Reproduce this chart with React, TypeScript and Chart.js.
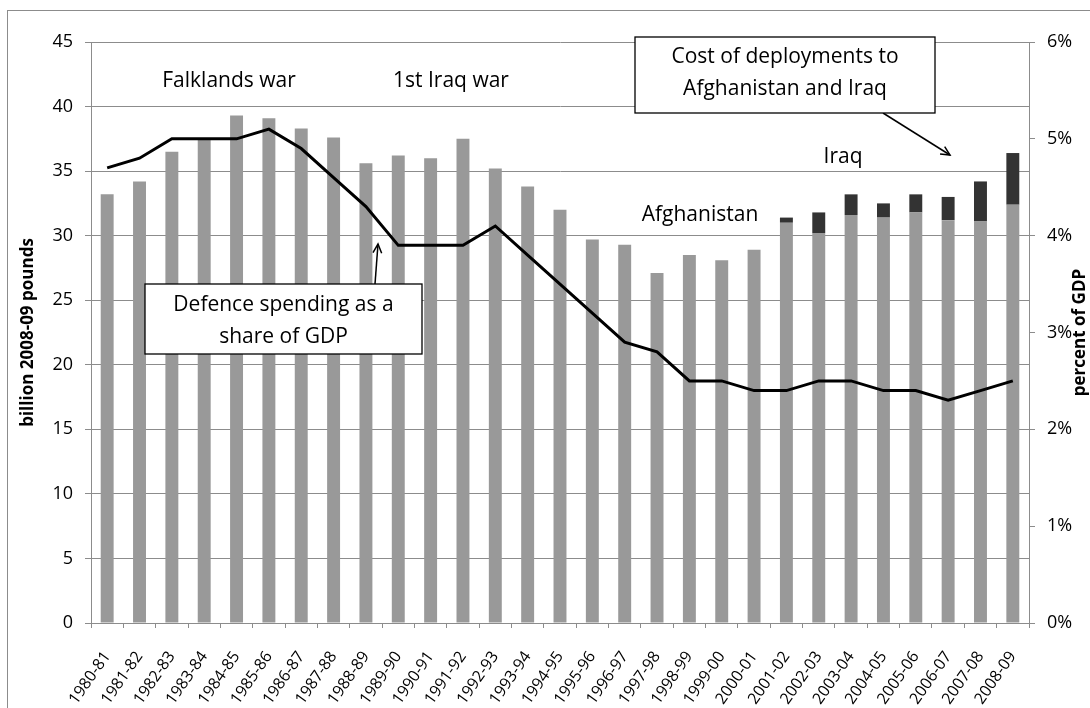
import React, { useEffect, useRef } from "react";
import { Chart, registerables } from "chart.js";

Chart.register(...registerables);

const categories = [
  "1980-81", "1981-82", "1982-83", "1983-84", "1984-85", "1985-86", "1986-87", "1987-88",
  "1988-89", "1989-90", "1990-91", "1991-92", "1992-93", "1993-94", "1994-95", "1995-96",
  "1996-97", "1997-98", "1998-99", "1999-00", "2000-01", "2001-02", "2002-03", "2003-04",
  "2004-05", "2005-06", "2006-07", "2007-08", "2008-09",
];

// billion 2008-09 pounds, core defence spending
const coreSpending = [
  33.2, 34.2, 36.5, 37.4, 39.3, 39.1, 38.3, 37.6, 35.6, 36.2, 36.0, 37.5, 35.2, 33.8, 32.0,
  29.7, 29.3, 27.1, 28.5, 28.1, 28.9, 31.0, 30.2, 31.6, 31.4, 31.8, 31.2, 31.1, 32.4,
];

// billion 2008-09 pounds, cost of deployments to Afghanistan and Iraq
const deploymentCost = [
  null, null, null, null, null, null, null, null, null, null, null, null, null, null, null,
  null, null, null, null, null, null, 0.4, 1.6, 1.6, 1.1, 1.4, 1.8, 3.1, 4.0,
];

// percent of GDP
const gdpShare = [
  4.7, 4.8, 5.0, 5.0, 5.0, 5.1, 4.9, 4.6, 4.3, 3.9, 3.9, 3.9, 4.1, 3.8, 3.5,
  3.2, 2.9, 2.8, 2.5, 2.5, 2.4, 2.4, 2.5, 2.5, 2.4, 2.4, 2.3, 2.4, 2.5,
];

const leftAxisMax = 45;
const leftAxisStep = 5;
const rightAxisMax = 6;
const rightAxisStep = 1;

const leftTitle = "billion 2008-09 pounds";
const rightTitle = "percent of GDP";
const labelFalklands = "Falklands war";
const labelIraqWar = "1st Iraq war";
const labelAfghanistan = "Afghanistan";
const labelIraq = "Iraq";
const boxShare = ["Defence spending as a", "share of GDP"];
const boxCost = ["Cost of deployments to", "Afghanistan and Iraq"];

const FONT = "'Open Sans', Lato, sans-serif";

function arrow(ctx: CanvasRenderingContext2D, x1: number, y1: number, x2: number, y2: number) {
  ctx.save();
  ctx.strokeStyle = "#000";
  ctx.lineWidth = 1.5;
  ctx.beginPath();
  ctx.moveTo(x1, y1);
  ctx.lineTo(x2, y2);
  ctx.stroke();
  const a = Math.atan2(y2 - y1, x2 - x1);
  const L = 10;
  const s = 0.45;
  ctx.beginPath();
  ctx.moveTo(x2 - L * Math.cos(a - s), y2 - L * Math.sin(a - s));
  ctx.lineTo(x2, y2);
  ctx.lineTo(x2 - L * Math.cos(a + s), y2 - L * Math.sin(a + s));
  ctx.stroke();
  ctx.restore();
}

function box(ctx: CanvasRenderingContext2D, x1: number, y1: number, x2: number, y2: number, lines: string[], cy: number[]) {
  ctx.save();
  ctx.fillStyle = "#fff";
  ctx.fillRect(x1, y1, x2 - x1, y2 - y1);
  ctx.strokeStyle = "#000";
  ctx.lineWidth = 1.3;
  ctx.strokeRect(x1, y1, x2 - x1, y2 - y1);
  ctx.fillStyle = "#000";
  ctx.font = `21px ${FONT}`;
  ctx.textAlign = "center";
  ctx.textBaseline = "middle";
  lines.forEach((t, i) => ctx.fillText(t, (x1 + x2) / 2, cy[i]));
  ctx.restore();
}

const annotationPlugin = {
  id: "annotations",
  afterDraw(chart: any) {
    const ctx: CanvasRenderingContext2D = chart.ctx;
    const y = chart.scales.y;
    ctx.save();
    ctx.fillStyle = "#000";
    ctx.textAlign = "center";
    ctx.textBaseline = "middle";
    ctx.font = `21px ${FONT}`;
    ctx.fillText(labelFalklands, 229, y.getPixelForValue(42));
    ctx.fillText(labelIraqWar, 451, y.getPixelForValue(42));
    ctx.fillText(labelAfghanistan, 700, y.getPixelForValue(31.6));
    ctx.fillText(labelIraq, 843, y.getPixelForValue(36.1));

    // axis titles
    ctx.font = `bold 17px ${FONT}`;
    const midY = (chart.chartArea.top + chart.chartArea.bottom) / 2;
    ctx.save();
    ctx.translate(28, midY);
    ctx.rotate(-Math.PI / 2);
    ctx.fillText(leftTitle, 0, 0);
    ctx.restore();
    ctx.save();
    ctx.translate(1080, midY);
    ctx.rotate(-Math.PI / 2);
    ctx.fillText(rightTitle, 0, 0);
    ctx.restore();
    ctx.restore();

    arrow(ctx, 375, 284, 378, 244);
    box(ctx, 145, 284, 422, 354, boxShare, [305, 337]);
    arrow(ctx, 883, 113, 950, 155);
    box(ctx, 635, 37, 935, 113, boxCost, [57, 89]);
  },
};

export default function App() {
  const ref = useRef<HTMLCanvasElement | null>(null);
  useEffect(() => {
    if (!ref.current) return;
    const gridColor = "#8c8c8c";
    const chart = new Chart(ref.current, {
      type: "bar",
      data: {
        labels: categories,
        datasets: [
          {
            type: "line",
            label: "Defence spending as a share of GDP",
            data: gdpShare,
            yAxisID: "y1",
            borderColor: "#000",
            borderWidth: 3,
            pointRadius: 0,
            tension: 0,
            order: 0,
          } as any,
          {
            label: "Core spending",
            data: coreSpending,
            backgroundColor: "#999999",
            yAxisID: "y",
            stack: "s",
            barPercentage: 0.4,
            categoryPercentage: 1,
            order: 1,
          },
          {
            label: "Cost of deployments",
            data: deploymentCost,
            backgroundColor: "#333333",
            yAxisID: "y",
            stack: "s",
            barPercentage: 0.4,
            categoryPercentage: 1,
            order: 1,
          },
        ],
      },
      options: {
        animation: false,
        responsive: false,
        maintainAspectRatio: false,
        layout: { padding: { top: 42, left: 0, right: 0, bottom: 0 } },
        plugins: { legend: { display: false }, tooltip: { enabled: false } },
        scales: {
          x: {
            stacked: true,
            offset: true,
            afterFit: (s: any) => { s.height = 85; },
            grid: { display: true, drawOnChartArea: false, drawTicks: true, tickLength: 5, color: gridColor, offset: true },
            border: { display: true, color: gridColor },
            ticks: {
              autoSkip: false,
              minRotation: 55,
              maxRotation: 55,
              padding: 20,
              color: "#000",
              font: { family: FONT, size: 16 },
            },
          },
          y: {
            stacked: true,
            position: "left",
            min: 0,
            max: leftAxisMax,
            afterFit: (s: any) => { s.width = 91; },
            grid: { color: gridColor, tickLength: 6, lineWidth: 1 },
            border: { display: true, color: gridColor },
            ticks: { stepSize: leftAxisStep, padding: 12, color: "#000", font: { family: FONT, size: 18 } },
          },
          y1: {
            position: "right",
            min: 0,
            max: rightAxisMax,
            afterFit: (s: any) => { s.width = 61; },
            grid: { drawOnChartArea: false, color: gridColor, tickLength: 6 },
            border: { display: true, color: gridColor },
            ticks: {
              stepSize: rightAxisStep,
              padding: 12,
              color: "#000",
              font: { family: FONT, size: 18 },
              callback: (v: any) => `${v}%`,
            },
          },
        },
      },
      plugins: [annotationPlugin],
    });
    return () => chart.destroy();
  }, []);

  return (
    <div style={{ position: "fixed", left: 0, top: 0, width: 1090, height: 708, background: "#fff" }}>
      <div
        style={{
          position: "absolute",
          left: 7,
          top: 10,
          width: 1100,
          height: 720,
          borderLeft: "1px solid #8c8c8c",
          borderTop: "1px solid #8c8c8c",
        }}
      />
      <canvas ref={ref} width={1090} height={708} style={{ position: "absolute", left: 0, top: 0 }} />
    </div>
  );
}
